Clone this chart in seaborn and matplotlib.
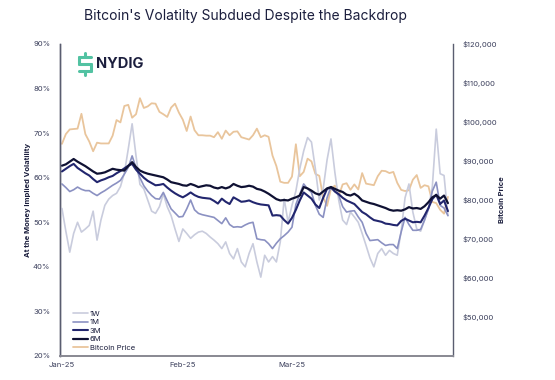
import pandas as pd
import numpy as np
import matplotlib
matplotlib.use("Agg")
import matplotlib.pyplot as plt
from matplotlib.lines import Line2D
from matplotlib.ticker import FuncFormatter
import seaborn as sns

# Daily data, Jan 1 2025 onwards
dates = pd.date_range("2025-01-01", periods=100, freq="D")

vol_1w = [53.1, 48.0, 43.3, 47.5, 50.0, 47.8, 48.5, 49.3, 52.5, 46.0,
          50.5, 53.8, 55.2, 56.0, 56.5, 58.0, 61.0, 66.4, 72.1, 64.9,
          58.5, 57.5, 55.0, 52.5, 52.0, 53.5, 56.4, 53.5, 51.5, 48.5,
          45.7, 48.5, 47.5, 46.4, 47.2, 47.8, 48.0, 47.5, 46.7, 46.0,
          45.2, 44.1, 45.6, 43.0, 41.8, 44.1, 41.1, 40.0, 43.0, 45.2,
          41.1, 37.7, 42.6, 41.1, 42.3, 41.1, 45.6, 55.3, 50.0, 53.8,
          57.0, 62.0, 66.0, 69.0, 68.0, 62.0, 55.0, 57.5, 64.0, 68.7,
          61.2, 54.9, 50.5, 49.5, 52.3, 51.2, 50.0, 47.5, 44.8, 42.0,
          40.0, 43.0, 44.1, 42.6, 43.7, 43.0, 42.6, 48.0, 55.5, 58.6,
          52.3, 48.5, 48.0, 50.5, 53.0, 58.0, 70.9, 60.9, 60.5, 51.5]

vol_1m = [58.6, 57.8, 56.9, 57.3, 57.9, 57.4, 57.1, 57.1, 56.5, 56.0,
          56.6, 57.1, 57.7, 58.3, 58.8, 59.4, 60.8, 62.3, 64.9, 62.2,
          60.0, 58.2, 57.0, 56.0, 55.3, 55.2, 56.7, 54.8, 53.0, 52.1,
          51.2, 51.3, 53.0, 55.0, 52.8, 52.0, 51.7, 51.5, 51.3, 51.1,
          50.4, 49.7, 51.0, 49.5, 48.9, 49.0, 48.9, 49.4, 49.8, 50.0,
          46.3, 46.1, 46.0, 45.2, 44.1, 45.3, 46.3, 47.0, 47.8, 48.9,
          54.0, 56.3, 58.6, 57.5, 56.7, 53.8, 51.8, 51.1, 55.5, 58.0,
          57.0, 56.0, 53.5, 52.3, 52.5, 52.6, 51.2, 50.0, 47.5, 45.9,
          46.0, 46.1, 45.4, 44.8, 45.0, 45.0, 44.1, 47.8, 51.1, 49.5,
          48.2, 48.2, 48.4, 50.5, 53.0, 57.0, 59.0, 53.8, 53.2, 51.5]

vol_3m = [61.4, 62.0, 62.6, 63.1, 62.2, 61.6, 61.0, 60.5, 59.7, 59.0,
          59.4, 59.7, 60.1, 60.4, 61.0, 61.5, 62.1, 62.7, 63.1, 61.8,
          60.9, 60.0, 59.3, 58.8, 58.3, 58.4, 58.6, 57.8, 57.1, 56.5,
          56.0, 55.6, 56.1, 56.7, 56.1, 55.7, 55.5, 55.4, 55.3, 54.8,
          54.2, 55.3, 54.6, 54.1, 55.6, 55.1, 54.6, 54.7, 54.9, 54.5,
          54.2, 54.0, 53.9, 53.8, 51.5, 51.6, 51.5, 50.5, 49.7, 51.0,
          52.8, 54.9, 56.7, 56.0, 55.3, 54.0, 53.2, 55.5, 57.5, 57.8,
          56.9, 56.3, 55.5, 54.9, 54.5, 54.1, 53.2, 52.3, 51.8, 51.1,
          50.5, 50.3, 50.1, 49.7, 49.6, 49.4, 49.3, 50.3, 50.8, 50.4,
          50.0, 50.1, 50.0, 51.5, 53.2, 55.2, 56.2, 54.1, 54.9, 52.5]

vol_6m = [62.7, 63.0, 63.6, 64.2, 63.6, 63.1, 62.6, 62.0, 61.4, 60.9,
          61.0, 61.2, 61.6, 62.0, 61.8, 61.7, 61.6, 62.6, 63.5, 62.4,
          61.6, 61.2, 60.9, 60.7, 60.5, 60.3, 60.1, 59.6, 59.0, 58.8,
          58.6, 58.3, 58.2, 58.6, 58.3, 57.9, 58.1, 58.3, 58.2, 57.8,
          57.6, 57.9, 57.6, 57.9, 58.6, 58.2, 57.9, 58.0, 58.2, 58.0,
          57.5, 57.3, 56.9, 56.4, 55.8, 55.2, 54.9, 55.0, 54.9, 55.3,
          55.6, 56.0, 57.9, 57.6, 57.1, 56.5, 56.2, 56.9, 57.6, 57.9,
          57.5, 57.1, 56.8, 56.2, 56.0, 56.4, 55.8, 54.9, 54.6, 54.3,
          54.1, 53.8, 53.5, 53.2, 52.8, 52.6, 52.7, 52.6, 52.9, 53.4,
          53.1, 53.2, 53.0, 53.6, 54.5, 55.6, 56.1, 55.3, 56.0, 54.3]

btc_price = [94400, 96900, 98100, 98200, 98300, 102100, 96900, 95000, 92500, 94700,
             94500, 94500, 94500, 96500, 100500, 99900, 104100, 104400, 101100, 102000,
             106100, 103600, 104000, 104800, 104700, 102600, 102000, 101300, 103700, 104700,
             102400, 100600, 97700, 101400, 97900, 96600, 96600, 96500, 96500, 96100,
             97400, 95700, 97800, 96600, 97500, 97600, 96100, 95800, 95500, 96600,
             98300, 96100, 96600, 96200, 91400, 88700, 84700, 84400, 84400, 86000,
             94300, 86100, 87200, 90600, 89900, 86700, 86200, 80700, 78500, 82900,
             83700, 81100, 84000, 84300, 82600, 84000, 82700, 86900, 84200, 84000,
             83800, 86100, 87500, 87400, 86900, 87200, 84400, 82600, 82300, 82500,
             85200, 86400, 83100, 83800, 83500, 79500, 79200, 77500, 76500, 80800]

tenors = ["1W", "1M", "3M", "6M"]
tenor_colors = {"1W": "#c9ccdd", "1M": "#8b91c2", "3M": "#22266e", "6M": "#0f1133"}
tenor_widths = {"1W": 1.2, "1M": 1.2, "3M": 1.5, "6M": 1.6}
price_color = "#e9c59c"
navy = "#1b1e3d"
label_col = "#3b3f5c"

vol = pd.DataFrame({"date": dates, "1W": vol_1w, "1M": vol_1m, "3M": vol_3m, "6M": vol_6m})
vol_long = vol.melt(id_vars="date", var_name="tenor", value_name="vol")
btc = pd.DataFrame({"date": dates, "price": btc_price})

sns.set_style("white")
plt.rcParams["font.family"] = ["Inter", "DejaVu Sans"]

fig = plt.figure(figsize=(5.55, 3.8), dpi=100)
ax = fig.add_axes([60 / 555, 24 / 380, 393 / 555, 312 / 380])
ax2 = ax.twinx()

# price on the secondary axis, drawn behind the vol lines
sns.lineplot(data=btc, x="date", y="price", color=price_color, linewidth=1.3, ax=ax2)
for t in tenors:
    sns.lineplot(data=vol_long[vol_long["tenor"] == t], x="date", y="vol",
                 color=tenor_colors[t], linewidth=tenor_widths[t], ax=ax)
ax.set_zorder(ax2.get_zorder() + 1)
ax.patch.set_visible(False)

ax.set_xlim(dates[0] - pd.Timedelta(hours=12), dates[0] + pd.Timedelta(days=100.3))
ax.set_ylim(20, 90)
ax2.set_ylim(40000, 120000)

ax.set_yticks(range(20, 91, 10))
ax.yaxis.set_major_formatter(FuncFormatter(lambda v, p: f"{v:.0f}%"))
ax2.set_yticks(range(50000, 120001, 10000))
ax2.yaxis.set_major_formatter(FuncFormatter(lambda v, p: f"${v:,.0f}"))
xt = pd.to_datetime(["2025-01-01", "2025-02-01", "2025-03-01"])
ax.set_xticks(xt)
ax.set_xticklabels(["Jan-25", "Feb-25", "Mar-25"])

ax.tick_params(axis="both", length=0, labelsize=5.5, labelcolor=label_col)
ax.tick_params(axis="y", pad=7)
ax.tick_params(axis="x", pad=4)
ax2.tick_params(axis="y", length=0, labelsize=5.5, labelcolor=label_col, pad=7)

ax.set_xlabel("")
ax.set_ylabel("At the Money Implied Volatility", fontsize=5.5, fontweight="bold", color=navy)
ax.yaxis.set_label_coords(-0.074, 0.5)
ax2.set_ylabel("Bitcoin Price", fontsize=5.5, fontweight="bold", color=navy)
ax2.yaxis.set_label_coords(1.117, 0.5)

for a in (ax, ax2):
    a.spines["top"].set_visible(False)
    a.spines["left"].set_color("#5a5d70")
    a.spines["right"].set_color("#5a5d70")
    a.spines["bottom"].set_color("#8a8a94")
    a.spines["left"].set_linewidth(1.0)
    a.spines["right"].set_linewidth(1.0)
    a.spines["bottom"].set_linewidth(1.3)
ax.spines["right"].set_visible(False)

handles = [Line2D([], [], color=tenor_colors[t], linewidth=tenor_widths[t]) for t in tenors]
handles.append(Line2D([], [], color=price_color, linewidth=1.3))
ax.legend(handles, tenors + ["Bitcoin Price"], loc="lower left", bbox_to_anchor=(0.015, -0.005),
          frameon=False, fontsize=5.5, handlelength=2.0, handletextpad=0.2,
          labelspacing=0.28, labelcolor=navy)

fig.text(0.443, 0.957, "Bitcoin's Volatilty Subdued Despite the Backdrop",
         ha="center", va="center", fontsize=10, color=navy)

# NYDIG logo
teal = "#52c2a2"
lx = [79 / 555, 91 / 555]
for yy in (57, 64, 71):
    fig.add_artist(Line2D(lx, [1 - yy / 380] * 2, color=teal, lw=2.2,
                          solid_capstyle="round", transform=fig.transFigure))
fig.add_artist(Line2D([79 / 555] * 2, [1 - 57 / 380, 1 - 64 / 380], color=teal, lw=2.2,
                      solid_capstyle="round", transform=fig.transFigure))
fig.add_artist(Line2D([91 / 555] * 2, [1 - 64 / 380, 1 - 71 / 380], color=teal, lw=2.2,
                      solid_capstyle="round", transform=fig.transFigure))
fig.add_artist(Line2D([85 / 555] * 2, [1 - 53 / 380, 1 - 57 / 380], color=teal, lw=2.2,
                      solid_capstyle="round", transform=fig.transFigure))
fig.add_artist(Line2D([85 / 555] * 2, [1 - 71 / 380, 1 - 75 / 380], color=teal, lw=2.2,
                      solid_capstyle="round", transform=fig.transFigure))
fig.text(96 / 555, 1 - 64 / 380, "NYDIG", ha="left", va="center", fontsize=10.5,
         fontweight="bold", color=navy)

fig.savefig("out.png", dpi=100)
